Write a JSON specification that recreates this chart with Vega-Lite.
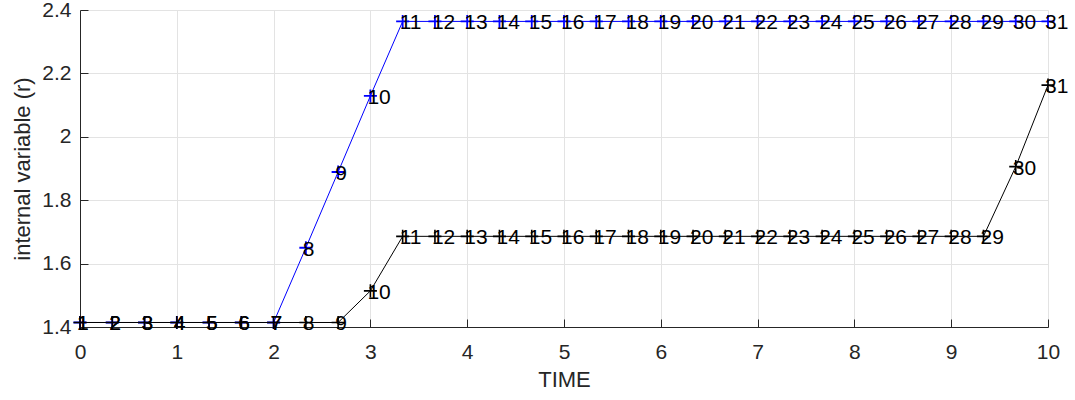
{
  "$schema": "https://vega.github.io/schema/vega-lite/v6.json",
  "autosize": "none",
  "padding": {"left": 80, "top": 10, "right": 27, "bottom": 73},
  "width": 968,
  "height": 317,
  "background": "white",
  "config": {
    "view": {"stroke": null},
    "font": "Liberation Sans",
    "axis": {
      "gridColor": "#e3e3e3",
      "gridWidth": 1,
      "domainColor": "#262626",
      "tickColor": "#262626",
      "tickSize": -8,
      "labelFont": "Liberation Sans",
      "labelFontSize": 21,
      "labelColor": "#262626",
      "titleFont": "Liberation Sans",
      "titleFontSize": 22,
      "titleFontWeight": "normal",
      "titleColor": "#262626"
    }
  },
  "data": {
    "values": [
      {"series": "blue", "i": 1, "t": 0, "r": 1.4142},
      {"series": "blue", "i": 2, "t": 0.3333, "r": 1.4142},
      {"series": "blue", "i": 3, "t": 0.6667, "r": 1.4142},
      {"series": "blue", "i": 4, "t": 1, "r": 1.4142},
      {"series": "blue", "i": 5, "t": 1.3333, "r": 1.4142},
      {"series": "blue", "i": 6, "t": 1.6667, "r": 1.4142},
      {"series": "blue", "i": 7, "t": 2, "r": 1.4142},
      {"series": "blue", "i": 8, "t": 2.3333, "r": 1.65},
      {"series": "blue", "i": 9, "t": 2.6667, "r": 1.889},
      {"series": "blue", "i": 10, "t": 3, "r": 2.129},
      {"series": "blue", "i": 11, "t": 3.3333, "r": 2.364},
      {"series": "blue", "i": 12, "t": 3.6667, "r": 2.364},
      {"series": "blue", "i": 13, "t": 4, "r": 2.364},
      {"series": "blue", "i": 14, "t": 4.3333, "r": 2.364},
      {"series": "blue", "i": 15, "t": 4.6667, "r": 2.364},
      {"series": "blue", "i": 16, "t": 5, "r": 2.364},
      {"series": "blue", "i": 17, "t": 5.3333, "r": 2.364},
      {"series": "blue", "i": 18, "t": 5.6667, "r": 2.364},
      {"series": "blue", "i": 19, "t": 6, "r": 2.364},
      {"series": "blue", "i": 20, "t": 6.3333, "r": 2.364},
      {"series": "blue", "i": 21, "t": 6.6667, "r": 2.364},
      {"series": "blue", "i": 22, "t": 7, "r": 2.364},
      {"series": "blue", "i": 23, "t": 7.3333, "r": 2.364},
      {"series": "blue", "i": 24, "t": 7.6667, "r": 2.364},
      {"series": "blue", "i": 25, "t": 8, "r": 2.364},
      {"series": "blue", "i": 26, "t": 8.3333, "r": 2.364},
      {"series": "blue", "i": 27, "t": 8.6667, "r": 2.364},
      {"series": "blue", "i": 28, "t": 9, "r": 2.364},
      {"series": "blue", "i": 29, "t": 9.3333, "r": 2.364},
      {"series": "blue", "i": 30, "t": 9.6667, "r": 2.364},
      {"series": "blue", "i": 31, "t": 10, "r": 2.364},
      {"series": "black", "i": 1, "t": 0, "r": 1.4142},
      {"series": "black", "i": 2, "t": 0.3333, "r": 1.4142},
      {"series": "black", "i": 3, "t": 0.6667, "r": 1.4142},
      {"series": "black", "i": 4, "t": 1, "r": 1.4142},
      {"series": "black", "i": 5, "t": 1.3333, "r": 1.4142},
      {"series": "black", "i": 6, "t": 1.6667, "r": 1.4142},
      {"series": "black", "i": 7, "t": 2, "r": 1.4142},
      {"series": "black", "i": 8, "t": 2.3333, "r": 1.4142},
      {"series": "black", "i": 9, "t": 2.6667, "r": 1.4142},
      {"series": "black", "i": 10, "t": 3, "r": 1.514},
      {"series": "black", "i": 11, "t": 3.3333, "r": 1.686},
      {"series": "black", "i": 12, "t": 3.6667, "r": 1.686},
      {"series": "black", "i": 13, "t": 4, "r": 1.686},
      {"series": "black", "i": 14, "t": 4.3333, "r": 1.686},
      {"series": "black", "i": 15, "t": 4.6667, "r": 1.686},
      {"series": "black", "i": 16, "t": 5, "r": 1.686},
      {"series": "black", "i": 17, "t": 5.3333, "r": 1.686},
      {"series": "black", "i": 18, "t": 5.6667, "r": 1.686},
      {"series": "black", "i": 19, "t": 6, "r": 1.686},
      {"series": "black", "i": 20, "t": 6.3333, "r": 1.686},
      {"series": "black", "i": 21, "t": 6.6667, "r": 1.686},
      {"series": "black", "i": 22, "t": 7, "r": 1.686},
      {"series": "black", "i": 23, "t": 7.3333, "r": 1.686},
      {"series": "black", "i": 24, "t": 7.6667, "r": 1.686},
      {"series": "black", "i": 25, "t": 8, "r": 1.686},
      {"series": "black", "i": 26, "t": 8.3333, "r": 1.686},
      {"series": "black", "i": 27, "t": 8.6667, "r": 1.686},
      {"series": "black", "i": 28, "t": 9, "r": 1.686},
      {"series": "black", "i": 29, "t": 9.3333, "r": 1.686},
      {"series": "black", "i": 30, "t": 9.6667, "r": 1.906},
      {"series": "black", "i": 31, "t": 10, "r": 2.163}
    ]
  },
  "encoding": {
    "x": {
      "field": "t", "type": "quantitative", "title": "TIME",
      "scale": {"domain": [0, 10], "nice": false, "zero": false},
      "axis": {"values": [0, 1, 2, 3, 4, 5, 6, 7, 8, 9, 10], "labelPadding": 22, "titlePadding": 7, "labelFlush": false}
    },
    "y": {
      "field": "r", "type": "quantitative", "title": "internal variable (r)",
      "scale": {"domain": [1.4, 2.4], "nice": false, "zero": false},
      "axis": {"values": [1.4, 1.6, 1.8, 2.0, 2.2, 2.4], "format": "~g", "labelPadding": 17, "titlePadding": 7, "labelFlush": false}
    }
  },
  "layer": [
    {
      "transform": [{"filter": "datum.series === 'blue'"}],
      "mark": {"type": "line", "color": "#0000ff", "strokeWidth": 1, "clip": false},
      "encoding": {"order": {"field": "i", "type": "quantitative"}}
    },
    {
      "transform": [{"filter": "datum.series === 'blue'"}],
      "mark": {"type": "point", "shape": "M-1,0L1,0M0,-1L0,1", "filled": false, "stroke": "#0000ff", "strokeWidth": 1.8, "size": 170, "opacity": 1, "clip": false}
    },
    {
      "transform": [{"filter": "datum.series === 'black'"}],
      "mark": {"type": "line", "color": "#000000", "strokeWidth": 1, "clip": false},
      "encoding": {"order": {"field": "i", "type": "quantitative"}}
    },
    {
      "transform": [{"filter": "datum.series === 'black'"}],
      "mark": {"type": "point", "shape": "M-1,0L1,0M0,-1L0,1", "filled": false, "stroke": "#000000", "strokeWidth": 1.6, "size": 170, "opacity": 1, "clip": false}
    },
    {
      "mark": {"type": "text", "align": "left", "baseline": "middle", "dx": -3, "dy": 2, "fontSize": 21, "color": "#000000", "font": "Liberation Sans", "clip": false},
      "encoding": {"text": {"field": "i", "type": "quantitative"}}
    }
  ]
}
